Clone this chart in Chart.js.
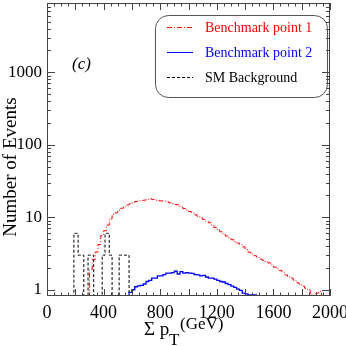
<!DOCTYPE html>
<html>
<head>
<meta charset="utf-8">
<script src="https://cdn.jsdelivr.net/npm/chart.js@4"></script>
<style>
  html, body { margin: 0; padding: 0; background: #fff; }
  #wrap { width: 346px; height: 346px; }
</style>
</head>
<body>
<div id="wrap"><canvas id="sumPtChart"></canvas></div>
<script>
const labels = ['Benchmark point 1', 'Benchmark point 2', 'SM Background'];

// Benchmark point 1 (red), 20 GeV bins from 300 GeV
const bp1Start = 300;
const bp1Width = 20;
const bp1Counts = [1.1, 1.9, 2.6, 3.3, 4.2, 5.6, 6.5, 7.8, 9.5, 11, 11.5, 12.5, 13.3, 14, 14.8, 15.3, 15.8, 16.5, 16.9, 17,
  17.2, 17.6, 18, 17.5, 17.2, 16.9, 16.8, 16.6, 16.4, 15.8, 15.3, 15, 14.8, 13.8, 13.2, 12.6, 12, 11.5, 10.8, 10.3,
  9.8, 9.3, 8.8, 8.4, 7.8, 7.2, 6.8, 6.3, 5.9, 5.5, 5.2, 4.9, 4.6, 4.4, 4.2, 3.9, 3.6, 3.3, 3.1, 2.95,
  2.8, 2.65, 2.55, 2.45, 2.35, 2.2, 2.05, 1.95, 1.85, 1.75, 1.6, 1.5, 1.45, 1.35, 1.25, 1.2, 1.12, 1.05, 1.0, 0.85,
  0.75, 0.9, 0.95];

// Benchmark point 2 (blue), 20 GeV bins from 580 GeV
const bp2Start = 580;
const bp2Width = 20;
const bp2Counts = [0.7, 0.92, 1.0, 1.1, 1.13, 1.15, 1.2, 1.3, 1.35, 1.45, 1.45, 1.55, 1.55, 1.62, 1.7, 1.7, 1.72, 1.8, 1.65, 1.78,
  1.7, 1.72, 1.7, 1.68, 1.62, 1.6, 1.55, 1.58, 1.5, 1.45, 1.45, 1.4, 1.35, 1.3, 1.28, 1.22, 1.18, 1.12, 1.08, 1.02,
  0.98, 0.9, 0.88, 0.85, 0.85, 0.85];

// SM background (black dashed), 10 GeV bins from 190 GeV, 0 = empty bin
const smStart = 190;
const smWidth = 10;
const smCounts = [1, 6, 6, 6, 3, 3, 3, 3, 0, 0, 0, 3, 3, 3, 3, 0, 0, 0, 0, 0, 0,
  3, 3, 6, 6, 6, 3, 3, 0, 0, 0, 0, 0, 3, 3, 3, 3, 3, 3, 3];

const xTicks = [0, 400, 800, 1200, 1600, 2000];
const yTicks = [1, 10, 100, 1000];

const EMPTY = 0.3; // below the axis, gets clipped

function histPoints(start, width, counts) {
  const pts = [{ x: start, y: EMPTY }];
  counts.forEach((c, i) => pts.push({ x: start + i * width, y: c > 0 ? c : EMPTY }));
  pts.push({ x: start + counts.length * width, y: EMPTY });
  return pts;
}

const FONT = "'Liberation Serif', 'DejaVu Serif', serif";
const colors = ['#ff0000', '#0000ff', '#000000'];
const dashes = [[5, 2, 1, 2], [], [3, 2]];

// frame, inward ticks on all 4 sides, axis titles, (c), legend
const decorPlugin = {
  id: 'decor',
  afterDraw(chart) {
    const ctx = chart.ctx;
    const a = chart.chartArea;
    const xs = chart.scales.x, ys = chart.scales.y;
    ctx.save();
    ctx.strokeStyle = '#444';
    ctx.lineWidth = 1;
    ctx.strokeRect(a.left + 0.5, a.top + 0.5, a.right - a.left - 1, a.bottom - a.top - 1);

    ctx.beginPath();
    for (let v = 0; v <= 2000; v += 50) {
      const px = Math.round(xs.getPixelForValue(v)) + 0.5;
      const len = v % 200 === 0 ? 7 : 3.5;
      ctx.moveTo(px, a.bottom); ctx.lineTo(px, a.bottom - len);
      ctx.moveTo(px, a.top); ctx.lineTo(px, a.top + len);
    }
    for (let d = 1; d <= 1000; d *= 10) {
      for (let m = 1; m <= 9; m++) {
        const v = d * m;
        if (v < ys.min || v > ys.max) continue;
        const py = Math.round(ys.getPixelForValue(v)) + 0.5;
        const len = m === 1 ? 8 : 4;
        ctx.moveTo(a.left, py); ctx.lineTo(a.left + len, py);
        ctx.moveTo(a.right, py); ctx.lineTo(a.right - len, py);
      }
    }
    ctx.stroke();

    ctx.fillStyle = '#000';
    ctx.textBaseline = 'alphabetic';
    ctx.textAlign = 'left';

    // y axis title
    ctx.save();
    ctx.translate(16, 167);
    ctx.rotate(-Math.PI / 2);
    ctx.textAlign = 'center';
    ctx.font = '19px ' + FONT;
    ctx.fillText('Number of Events', 0, 0);
    ctx.restore();

    // x axis title: Σ p_T (GeV)
    ctx.font = '19px ' + FONT;
    ctx.fillText('Σ p', 144, 335);
    ctx.font = '17px ' + FONT;
    ctx.fillText('T', 169, 345);
    ctx.fillText('(GeV)', 180, 329);

    // panel label
    ctx.font = 'italic 17px ' + FONT;
    ctx.fillText('(c)', 72, 69);

    // legend box
    const bx = 155, by = 15, bw = 172, bh = 82, r = 13;
    ctx.beginPath();
    ctx.roundRect(bx + 0.5, by + 0.5, bw, bh, r);
    ctx.strokeStyle = '#555';
    ctx.stroke();
    ctx.font = '14px ' + FONT;
    ctx.textBaseline = 'middle';
    chart.data.datasets.forEach((ds, i) => {
      const y = by + 12 + i * 25;
      ctx.beginPath();
      ctx.setLineDash(ds.borderDash);
      ctx.strokeStyle = ds.borderColor;
      ctx.moveTo(167, y + 0.5); ctx.lineTo(193, y + 0.5);
      ctx.stroke();
      ctx.setLineDash([]);
      ctx.fillStyle = i === 2 ? '#000' : ds.borderColor;
      ctx.fillText(ds.label, 205, y + 1);
    });
    ctx.restore();
  }
};

new Chart(document.getElementById('sumPtChart').getContext('2d'), {
  type: 'line',
  data: {
    datasets: [
      { label: labels[0], data: histPoints(bp1Start, bp1Width, bp1Counts) },
      { label: labels[1], data: histPoints(bp2Start, bp2Width, bp2Counts) },
      { label: labels[2], data: histPoints(smStart, smWidth, smCounts) }
    ].map((ds, i) => Object.assign(ds, {
      borderColor: colors[i],
      borderDash: dashes[i],
      borderWidth: i === 1 ? 1.3 : 1,
      stepped: 'after',
      pointRadius: 0,
      fill: false
    }))
  },
  options: {
    responsive: true,
    maintainAspectRatio: false,
    animation: false,
    layout: { padding: { top: 3, right: 16, left: 0, bottom: 0 } },
    plugins: { legend: { display: false }, tooltip: { enabled: false } },
    scales: {
      x: {
        type: 'linear',
        bounds: 'data',
        min: 0, max: 2000,
        afterBuildTicks: s => { s.ticks = xTicks.map(v => ({ value: v })); },
        afterFit: s => { s.height = 50; s.paddingLeft = 0; s.paddingRight = 0; },
        grid: { display: false, drawTicks: false },
        border: { display: false },
        ticks: { color: '#000', font: { family: FONT, size: 18 }, padding: 6, maxRotation: 0, callback: v => String(v) }
      },
      y: {
        type: 'logarithmic',
        bounds: 'data',
        min: 0.82, max: 9000,
        afterBuildTicks: s => { s.ticks = yTicks.map(v => ({ value: v })); },
        afterFit: s => { s.width = 47; s.paddingTop = 0; s.paddingBottom = 0; },
        grid: { display: false, drawTicks: false },
        border: { display: false },
        ticks: { color: '#000', font: { family: FONT, size: 17 }, padding: 5, callback: v => String(v) }
      }
    }
  },
  plugins: [decorPlugin]
});
</script>
</body>
</html>
